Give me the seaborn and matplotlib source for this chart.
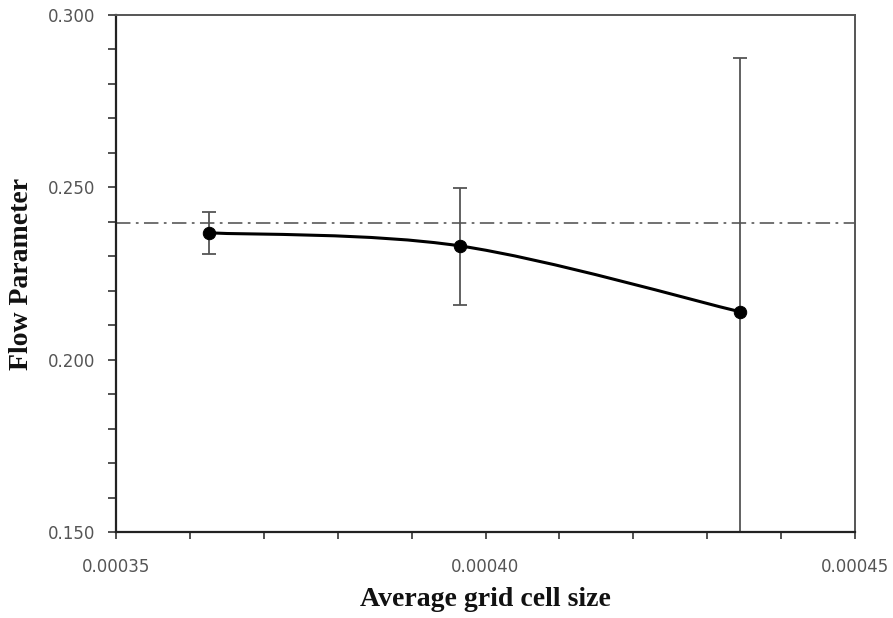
import numpy as np
import pandas as pd
import seaborn as sns
import matplotlib
matplotlib.use("Agg")
import matplotlib.pyplot as plt
from matplotlib.path import Path
from matplotlib.patches import PathPatch
from matplotlib.ticker import MultipleLocator, FormatStrFormatter

# data
cell_size = [0.0003626, 0.00039655, 0.00043444]
flow_param = [0.2368, 0.2330, 0.2139]
err_lower = [0.0061, 0.0170, 0.0735]
err_upper = [0.0060, 0.0167, 0.0735]
reference_value = 0.2396
xticks = [0.00035, 0.00040, 0.00045]
yticks = [0.150, 0.200, 0.250, 0.300]

sns.set_theme(style="ticks")
plt.rcParams['font.family'] = ['DejaVu Sans']

fig = plt.figure(figsize=(8.93, 6.18), dpi=100)
ax = fig.add_axes([116/893, 1 - 532/618, (855-116)/893, (532-15)/618])

df = pd.DataFrame({"x": cell_size, "y": flow_param})

# error bars
ax.errorbar(cell_size, flow_param, yerr=[err_lower, err_upper], fmt="none",
            ecolor="#555555", elinewidth=1.3, capsize=5, capthick=1.3, zorder=2)

# smoothed line (Catmull-Rom style bezier through the data points)
xs = np.array(cell_size); ys = np.array(flow_param)
n = len(xs)
verts = [(xs[0], ys[0])]
codes = [Path.MOVETO]
t = 1/6
for i in range(n - 1):
    p0 = np.array([xs[max(i-1, 0)], ys[max(i-1, 0)]])
    p1 = np.array([xs[i], ys[i]])
    p2 = np.array([xs[i+1], ys[i+1]])
    p3 = np.array([xs[min(i+2, n-1)], ys[min(i+2, n-1)]])
    c1 = p1 + (p2 - p0) * t
    c2 = p2 - (p3 - p1) * t
    verts += [tuple(c1), tuple(c2), tuple(p2)]
    codes += [Path.CURVE4] * 3
ax.add_patch(PathPatch(Path(verts, codes), fill=False, edgecolor="black", lw=2.2, zorder=3))

sns.scatterplot(data=df, x="x", y="y", ax=ax, color="black", s=80, edgecolor="black",
                zorder=4, legend=False)

ax.axhline(reference_value, color="#666666", lw=1.3, ls=(0, (8, 3, 1.5, 3)), zorder=1)

ax.set_xlim(0.00035, 0.00045)
ax.set_ylim(0.150, 0.300)
ax.set_xticks(xticks)
ax.set_yticks(yticks)
ax.xaxis.set_major_formatter(FormatStrFormatter("%.5f"))
ax.yaxis.set_major_formatter(FormatStrFormatter("%.3f"))
ax.xaxis.set_minor_locator(MultipleLocator(0.00001))
ax.yaxis.set_minor_locator(MultipleLocator(0.01))

ax.tick_params(axis="both", which="both", direction="out", colors="#333333",
               labelcolor="#555555", labelsize=12, width=1.2)
ax.tick_params(axis="y", which="both", length=6, pad=9)
ax.tick_params(axis="x", which="both", length=5, pad=14)

for side in ["left", "bottom"]:
    ax.spines[side].set_color("#222222")
    ax.spines[side].set_linewidth(1.6)
for side in ["top", "right"]:
    ax.spines[side].set_color("#555555")
    ax.spines[side].set_linewidth(1.4)
    ax.spines[side].set_visible(True)

ax.set_xlabel("Average grid cell size", fontfamily="Liberation Serif", fontweight="bold",
              fontsize=20, color="#111111", labelpad=8)
ax.set_ylabel("Flow Parameter", fontfamily="Liberation Serif", fontweight="bold",
              fontsize=20, color="#111111", labelpad=10)

fig.savefig("out.png", dpi=100)
